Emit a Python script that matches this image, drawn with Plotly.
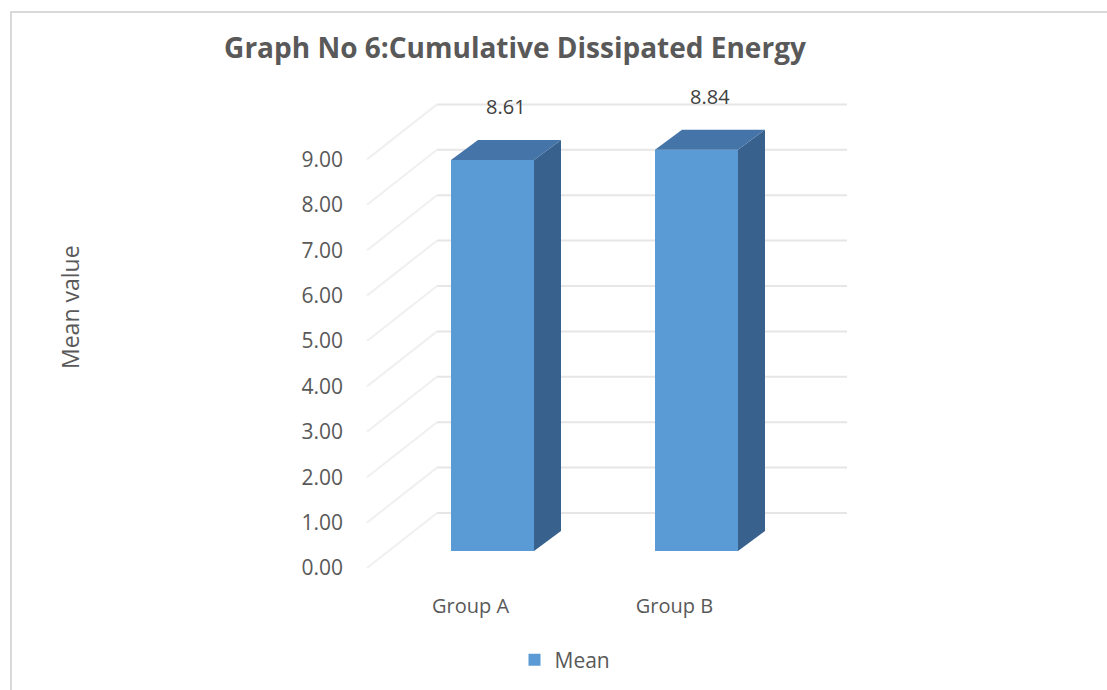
import plotly.graph_objects as go

# ---- data ----
categories = ["Group A", "Group B"]
mean_values = [8.61, 8.84]
series_name = "Mean"
tick_values = [0, 1, 2, 3, 4, 5, 6, 7, 8, 9]
tick_labels = [f"{v:.2f}" for v in tick_values]

# ---- page / projection geometry (pixels) ----
W, H = 1107, 690
X0, XS = 470.5, 204.0     # px of first category on front edge, px per category
Y0, YS = 568.0, 45.4      # px of value 0 on front edge, px per value unit

WALL_DX, WALL_DY = 70 / XS, 55 / YS        # front edge -> back wall
BAR_SHIFT_X, BAR_SHIFT_Y = 22 / XS, 17 / YS  # front edge -> bar front face
BAR_W = 83 / XS
BAR_DX, BAR_DY = 27 / XS, 20 / YS          # bar depth
WALL_LEFT = (367 - X0) / XS
WALL_RIGHT = (847 - X0) / XS

FRONT = "#5B9BD5"
SIDE = "#38618D"
TOP = "#4574A8"
TEXT = "#595959"
GRID = "#E6E6E6"
FONT = "Open Sans"

xs = [i + BAR_SHIFT_X for i in range(len(categories))]

fig = go.Figure()

# front faces
fig.add_trace(go.Bar(
    x=xs, y=mean_values, base=BAR_SHIFT_Y, width=BAR_W,
    marker=dict(color=FRONT, line=dict(width=0)),
    name=series_name, hoverinfo="skip",
))

# side and top faces of every bar
for x, v in zip(xs, mean_values):
    xl, xr = x - BAR_W / 2, x + BAR_W / 2
    y0, y1 = BAR_SHIFT_Y, BAR_SHIFT_Y + v
    fig.add_trace(go.Scatter(
        x=[xr, xr, xr + BAR_DX, xr + BAR_DX, xr],
        y=[y0, y1, y1 + BAR_DY, y0 + BAR_DY, y0],
        fill="toself", fillcolor=SIDE, mode="lines", line=dict(width=0, color=SIDE),
        showlegend=False, hoverinfo="skip",
    ))
    fig.add_trace(go.Scatter(
        x=[xl, xr, xr + BAR_DX, xl + BAR_DX, xl],
        y=[y1, y1, y1 + BAR_DY, y1 + BAR_DY, y1],
        fill="toself", fillcolor=TOP, mode="lines", line=dict(width=0, color=TOP),
        showlegend=False, hoverinfo="skip",
    ))

# back wall and side wall gridlines
shapes = []
for v in tick_values:
    shapes.append(dict(type="line", xref="x", yref="y", layer="below",
                       x0=WALL_LEFT + WALL_DX, x1=WALL_RIGHT,
                       y0=v + WALL_DY, y1=v + WALL_DY,
                       line=dict(color=GRID, width=2)))
    shapes.append(dict(type="line", xref="x", yref="y", layer="below",
                       x0=WALL_LEFT, x1=WALL_LEFT + WALL_DX,
                       y0=v, y1=v + WALL_DY,
                       line=dict(color="#F0F0F0", width=2)))

# chart frame
shapes.append(dict(type="rect", xref="paper", yref="paper", layer="below",
                   x0=11 / W, x1=1.02, y0=-0.02, y1=1 - 12 / H,
                   line=dict(color="#D9D9D9", width=2)))

# value labels above the bars
annotations = []
for x, v in zip(xs, mean_values):
    annotations.append(dict(
        x=x + BAR_DX / 2, y=v + 1.55, xref="x", yref="y",
        text=f"{v:.2f}", showarrow=False,
        font=dict(family=FONT, size=20, color="#404040"),
    ))

annotations.append(dict(
    x=52 / W, y=1 - 307 / H, xref="paper", yref="paper",
    text="Mean value", textangle=-90, showarrow=False,
    font=dict(family=FONT, size=23, color=TEXT),
))

fig.update_layout(
    width=W, height=H,
    margin=dict(l=0, r=0, t=0, b=0),
    paper_bgcolor="white", plot_bgcolor="white",
    title=dict(text="Graph No 6:Cumulative Dissipated Energy",
               x=515 / W, xanchor="center", y=1 - 48 / H, yanchor="middle",
               font=dict(family=FONT, size=28, color=TEXT, weight="bold")),
    xaxis=dict(range=[-X0 / XS, (W - X0) / XS], anchor="free", position=(H - 592) / H,
               tickvals=list(range(len(categories))), ticktext=categories,
               showgrid=False, zeroline=False, showline=False, ticks="",
               tickfont=dict(family=FONT, size=20, color=TEXT), fixedrange=True),
    yaxis=dict(range=[(Y0 - H) / YS, Y0 / YS], anchor="free", position=343 / W,
               tickvals=tick_values, ticktext=tick_labels,
               showgrid=False, zeroline=False, showline=False, ticks="",
               tickfont=dict(family=FONT, size=21, color=TEXT), fixedrange=True),
    showlegend=True,
    legend=dict(orientation="h", x=565 / W, xanchor="center", y=1 - 660 / H, yanchor="middle",
                font=dict(family=FONT, size=21, color=TEXT)),
    shapes=shapes, annotations=annotations,
)

fig.write_html("out.html")
